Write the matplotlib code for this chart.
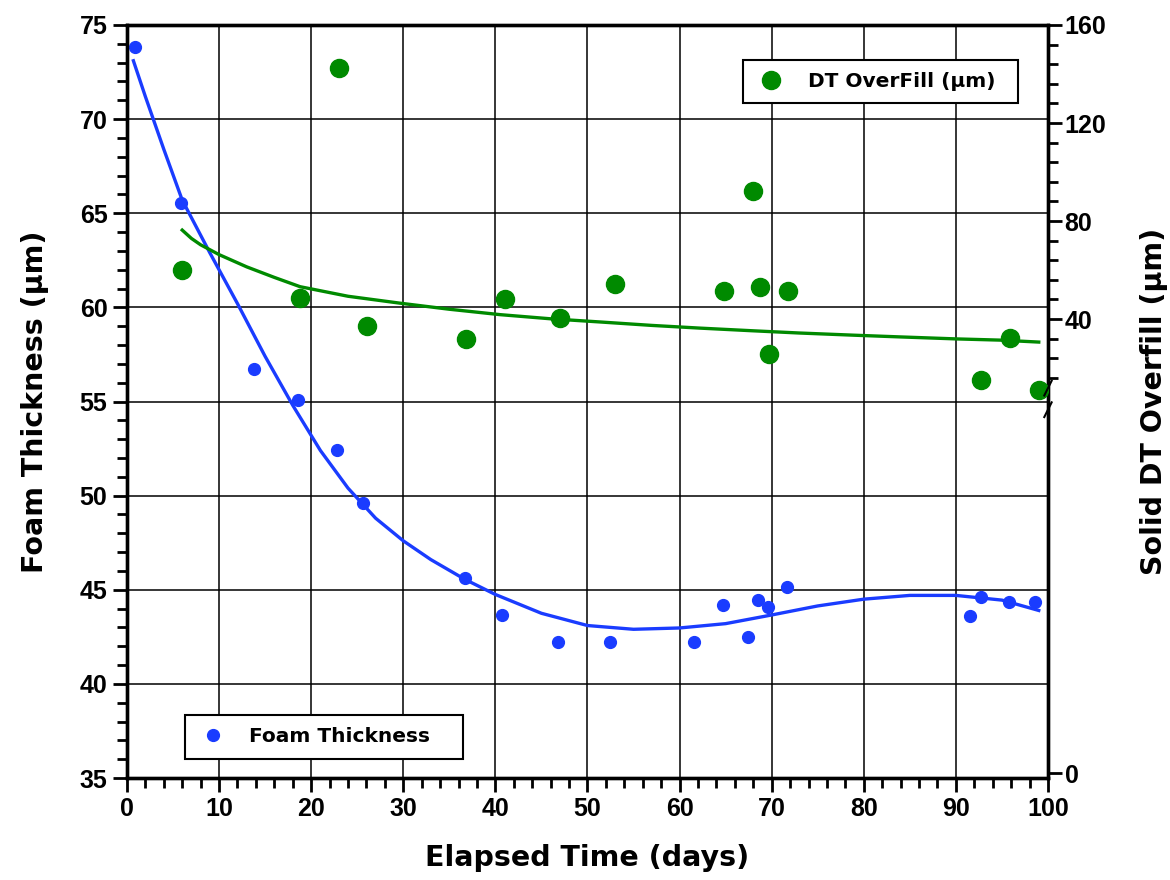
import matplotlib
matplotlib.use('agg')  # no display
import matplotlib.pyplot as plt
from matplotlib.ticker import MultipleLocator, FixedLocator
from matplotlib.lines import Line2D
import numpy as np

plt.rcParams['font.family'] = ['Liberation Sans', 'DejaVu Sans']
plt.rcParams['font.weight'] = 'bold'

# foam thickness measurements (days, um)
foam_days = [0.9, 5.9, 13.8, 18.6, 22.8, 25.6, 36.7, 40.7, 46.8, 52.4, 61.6,
             64.7, 67.4, 68.5, 69.6, 71.7, 91.5, 92.7, 95.8, 98.6]
foam_um = [73.85, 65.55, 56.7, 55.1, 52.4, 49.6, 45.6, 43.66, 42.2, 42.2, 42.2,
           44.2, 42.5, 44.45, 44.08, 45.15, 43.6, 44.6, 44.35, 44.35]

# foam fit curve
foam_fit_days = [0.7, 2, 4, 6, 9, 12, 15, 18, 21, 24, 27, 30, 33, 36.7, 40,
                 45, 50, 55, 60, 65, 70, 75, 80, 85, 90, 95, 99]
foam_fit_um = [73.1, 71.2, 68.4, 65.7, 62.9, 60.2, 57.4, 54.8, 52.4, 50.4,
               48.8, 47.6, 46.6, 45.55, 44.75, 43.75, 43.1, 42.9, 42.97, 43.2,
               43.66, 44.14, 44.5, 44.7, 44.7, 44.45, 43.9]

# DT overfill measurements (days, um) on the right axis
dt_days = [6.0, 18.8, 23.0, 26.1, 36.8, 41.0, 47.0, 53.0, 64.8, 68.0, 68.7,
           69.7, 71.8, 92.7, 95.9, 99.0]
dt_um = [60.0, 48.6, 142.4, 37.1, 31.8, 48.2, 40.4, 54.3, 51.4, 92.2, 53.1,
         25.7, 51.4, 15.1, 32.2, 11.0]

# DT overfill fit curve
dt_fit_days = [6, 7, 8, 10, 13, 16, 18.8, 24, 29.6, 35, 40.5, 46, 51.4, 57,
               62.2, 68, 73, 79, 84, 90, 94.8, 99]
dt_fit_um = [76.3, 72.9, 70.3, 66.3, 61.3, 57.0, 53.2, 49.3, 46.5, 44.0, 41.8,
             40.1, 38.8, 37.4, 36.3, 35.2, 34.3, 33.4, 32.7, 31.9, 31.4, 30.6]

left_ticks = [35, 40, 45, 50, 55, 60, 65, 70, 75]
right_ticks = [40, 80, 120, 160]
x_ticks = [0, 10, 20, 30, 40, 50, 60, 70, 80, 90, 100]

# broken right axis: 0 sits at the bottom, 16..160 is linear above the break
right_lim = (-147.3, 160)
right_zero_pos = -145.3

blue = '#1a3cff'
green = '#008a00'
label_font = {'family': 'DejaVu Sans', 'weight': 'bold', 'size': 20.5}
legend_font = {'family': 'DejaVu Sans', 'weight': 'bold', 'size': 14.5}

fig = plt.figure(figsize=(11.7, 8.8), dpi=100)
ax = fig.add_axes([0.1085, 0.1159, 0.7872, 0.8557])
ax2 = ax.twinx()

ax.set_xlim(0, 100)
ax.set_ylim(35, 75)
ax2.set_ylim(*right_lim)

ax.grid(True, which='major', color='black', linewidth=1.1)
ax.set_axisbelow(True)

ax.plot(foam_fit_days, foam_fit_um, color=blue, linewidth=2.4, zorder=3)
ax.plot(foam_days, foam_um, 'o', color=blue, markersize=8.5, zorder=4)
ax2.plot(dt_fit_days, dt_fit_um, color=green, linewidth=2.4, zorder=3)
ax2.plot(dt_days, dt_um, 'o', color=green, markersize=13, zorder=4)

for a in (ax, ax2):
    for s in a.spines.values():
        s.set_linewidth(2.4)

ax.set_xticks(x_ticks)
ax.set_yticks(left_ticks)
ax.xaxis.set_minor_locator(MultipleLocator(2))
ax.yaxis.set_minor_locator(MultipleLocator(1))
ax.tick_params(which='major', length=10, width=2, labelsize=18, direction='out')
ax.tick_params(which='minor', length=7, width=2, direction='out')
ax.tick_params(axis='y', pad=4)

ax2.set_yticks([right_zero_pos] + right_ticks)
ax2.set_yticklabels(['0'] + [str(t) for t in right_ticks])
ax2.yaxis.set_minor_locator(FixedLocator(np.arange(16, 161, 8)))
ax2.tick_params(which='major', length=10, width=2, labelsize=18, direction='out', pad=2)
ax2.tick_params(which='minor', length=7, width=2, direction='out')

for lbl in ax.get_xticklabels() + ax.get_yticklabels() + ax2.get_yticklabels():
    lbl.set_fontweight('bold')

# break marks on the right spine
for yb in (11.8, 3.0):
    ax2.plot([1.0 - 0.004, 1.0 + 0.004], [yb - 3, yb + 3], color='black',
             linewidth=1.5, transform=ax2.get_yaxis_transform(), clip_on=False, zorder=6)

ax.set_xlabel('Elapsed Time (days)', fontdict=label_font, labelpad=17)
ax.set_ylabel('Foam Thickness (µm)', fontdict=label_font, labelpad=22)
ax2.set_ylabel('Solid DT Overfill (µm)', fontdict=label_font, labelpad=24)

h_blue = Line2D([], [], marker='o', color=blue, linestyle='none', markersize=8.5)
h_green = Line2D([], [], marker='o', color=green, linestyle='none', markersize=13)

leg1 = ax.legend([h_blue], ['Foam Thickness'], loc='center',
                 bbox_to_anchor=(0.063, 0.021, 0.302, 0.067), mode='expand',
                 borderaxespad=0, fancybox=False, framealpha=1, edgecolor='black',
                 prop=legend_font, handlelength=1.6,
                 handletextpad=1.0, borderpad=0.6)
leg1.get_frame().set_linewidth(1.5)
leg1.set_zorder(10)

leg2 = ax2.legend([h_green], ['DT OverFill (µm)'], loc='center',
                  bbox_to_anchor=(0.669, 0.891, 0.298, 0.069), mode='expand',
                  borderaxespad=0, fancybox=False, framealpha=1, edgecolor='black',
                  prop=legend_font, handlelength=1.6,
                  handletextpad=1.0, borderpad=0.6)
leg2.get_frame().set_linewidth(1.5)

fig.savefig('out.png', dpi=100)
